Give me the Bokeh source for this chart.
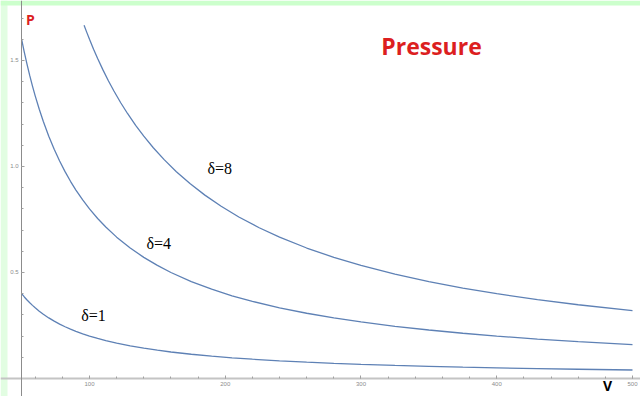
from bokeh.plotting import figure
from bokeh.models import Label, Range1d, FixedTicker, ColumnDataSource, PrintfTickFormatter, BoxAnnotation
from bokeh.core.properties import value
from bokeh.embed import file_html
from bokeh.resources import INLINE

# Data
v_low = [50, 52, 54, 56, 58, 60, 63, 66, 70, 74, 78, 82, 86, 90, 95, 100, 106, 112, 120, 130, 140, 150,
         160, 175, 190, 205, 220, 240, 260, 280, 300, 325, 350, 375, 400, 430, 460, 500]
p_delta1 = [0.4, 0.3846, 0.3704, 0.3571, 0.3448, 0.3333, 0.3175, 0.3030, 0.2857, 0.2703, 0.2564, 0.2439,
            0.2326, 0.2222, 0.2105, 0.2, 0.1887, 0.1786, 0.1667, 0.1538, 0.1429, 0.1333, 0.125, 0.1143,
            0.1053, 0.0976, 0.0909, 0.0833, 0.0769, 0.0714, 0.0667, 0.0615, 0.0571, 0.0533, 0.05, 0.0465,
            0.0435, 0.04]
p_delta4 = [1.6, 1.5385, 1.4815, 1.4286, 1.3793, 1.3333, 1.2698, 1.2121, 1.1429, 1.0811, 1.0256, 0.9756,
            0.9302, 0.8889, 0.8421, 0.8, 0.7547, 0.7143, 0.6667, 0.6154, 0.5714, 0.5333, 0.5, 0.4571,
            0.4211, 0.3902, 0.3636, 0.3333, 0.3077, 0.2857, 0.2667, 0.2462, 0.2286, 0.2133, 0.2, 0.1860,
            0.1739, 0.16]
v_high = [96, 98, 100, 103, 106, 110, 114, 118, 123, 128, 134, 140, 147, 155, 164, 174, 185, 197, 210,
          225, 240, 260, 280, 300, 325, 350, 375, 400, 430, 460, 500]
p_delta8 = [1.6667, 1.6327, 1.6, 1.5534, 1.5094, 1.4545, 1.4035, 1.3559, 1.3008, 1.25, 1.1940, 1.1429,
            1.0884, 1.0323, 0.9756, 0.9195, 0.8649, 0.8122, 0.7619, 0.7111, 0.6667, 0.6154, 0.5714, 0.5333,
            0.4923, 0.4571, 0.4267, 0.4, 0.3721, 0.3478, 0.32]
curve_labels = ["δ=1", "δ=4", "δ=8"]
label_v = [103, 151, 196]
label_p = [0.297, 0.637, 0.99]
x_ticks = [100, 200, 300, 400, 500]
y_ticks = [0.5, 1.0, 1.5]

p = figure(width=640, height=396, output_backend="svg", toolbar_location=None,
           x_range=Range1d(34.44, 505.9), y_range=Range1d(-0.085, 1.783),
           min_border=0, min_border_left=0, min_border_right=0, min_border_top=0, min_border_bottom=0)
p.background_fill_color = "white"
p.border_fill_color = "white"
p.outline_line_color = None
p.grid.visible = False

# slide background: light green strips at top and left
p.add_layout(BoxAnnotation(right=39.6, fill_color="#e2fde2", fill_alpha=1, line_color=None, level="underlay"))
p.add_layout(BoxAnnotation(bottom=1.759, fill_color="#ccffcc", fill_alpha=1, line_color=None, level="underlay"))

line_color = "#5e81b5"
p.line(v_low, p_delta1, line_color=line_color, line_width=1.3)
p.line(v_low, p_delta4, line_color=line_color, line_width=1.3)
p.line(v_high, p_delta8, line_color=line_color, line_width=1.3)

src = ColumnDataSource(dict(x=label_v, y=label_p, t=curve_labels))
p.text(x="x", y="y", text="t", source=src, text_font=value("Liberation Serif"),
       text_font_size="16px", text_color="black", text_align="center", text_baseline="middle")

# axes crossing at (50, 0)
xa = p.xaxis[0]
xa.fixed_location = 0
xa.ticker = FixedTicker(ticks=x_ticks, minor_ticks=list(range(60, 520, 20)))
ya = p.yaxis[0]
ya.fixed_location = 50
ya.ticker = FixedTicker(ticks=y_ticks, minor_ticks=[round(0.1 * i, 1) for i in range(1, 18)])
ya.formatter = PrintfTickFormatter(format="%.1f")

xa.axis_line_color = "#c4c4c4"
xa.axis_line_width = 2
ya.axis_line_color = "#8c8c8c"
ya.axis_line_width = 1
for ax in (xa, ya):
    ax.major_tick_in = 3
    ax.major_tick_out = 0
    ax.minor_tick_in = 2
    ax.minor_tick_out = 0
    ax.major_tick_line_color = "#a0a0a0"
    ax.minor_tick_line_color = "#a0a0a0"
    ax.major_label_text_font_size = "6px"
    ax.major_label_text_color = "#8c8c8c"
    ax.major_label_text_font = "Liberation Sans"
xa.major_label_standoff = 4
ya.major_label_standoff = 3

p.add_layout(Label(x=431, y=351, x_units="screen", y_units="screen", text="Pressure",
                   text_font="Open Sans", text_font_size="23px", text_font_style="bold",
                   text_color="#dc1f1f", text_align="center", text_baseline="middle"))
p.add_layout(Label(x=30, y=377, x_units="screen", y_units="screen", text="P",
                   text_font="Open Sans", text_font_size="14px", text_font_style="bold",
                   text_color="#dc1f1f", text_align="center", text_baseline="middle"))
p.add_layout(Label(x=607, y=11, x_units="screen", y_units="screen", text="V",
                   text_font="Open Sans", text_font_size="14px", text_font_style="bold",
                   text_color="black", text_align="center", text_baseline="middle"))

open("out.html", "w").write(file_html(p, INLINE))
